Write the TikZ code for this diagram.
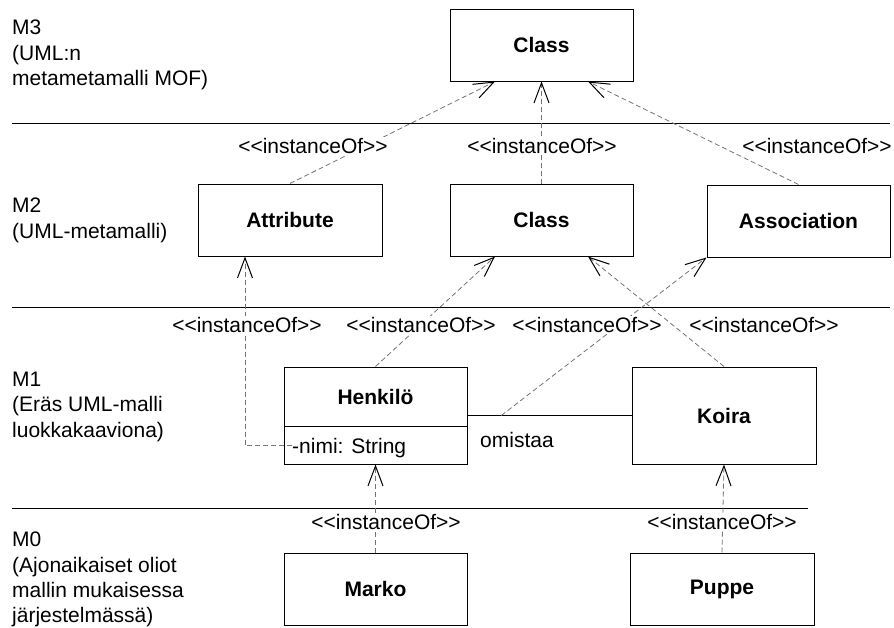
\documentclass[tikz,border=0pt]{standalone}
\usepackage{fontspec}
\setmainfont{Liberation Sans}
\usetikzlibrary{arrows.meta}
% stereotype text, with the << and >> pairs kept apart from the guillemet ligature
\newcommand{\instof}{<{}<instanceOf>{}>}
\begin{document}
\begin{tikzpicture}[x=1pt,y=-1pt,
  every node/.style={font=\fontsize{21}{26}\selectfont},
  classbox/.style={draw, line width=1pt, minimum width=183pt, minimum height=72pt,
    inner sep=0pt, font=\fontsize{21}{26}\selectfont\bfseries},
  boldname/.style={inner sep=0pt, font=\fontsize{21}{26}\selectfont\bfseries},
  layer/.style={anchor=north west, align=left, inner sep=0pt,
    font=\fontsize{21}{25.3}\selectfont},
  sep/.style={line width=1pt},
  inst/.style={draw=black!55, line width=0.8pt, dash pattern=on 5pt off 3pt,
    -{Straight Barb[length=20pt,width=15pt,line width=1pt,color=black]}},
  stereo/.style={fill=white, inner sep=1pt},
  assocline/.style={line width=1pt}]
\useasboundingbox (0,0) rectangle (894,627);

% layer separators
\draw[sep] (12,123) -- (890,123);
\draw[sep] (12,307) -- (890,307);
\draw[sep] (12,508) -- (808,508);

% layer captions
\node[layer] (m3) at (12,20) {M3\\(UML:n\\metametamalli MOF)};
\node[layer] (m2) at (12,198) {M2\\(UML-metamalli)};
\node[layer] (m1) at (12,372) {M1\\(Eräs UML-malli\\luokkakaaviona)};
\node[layer] (m0) at (12,532) {M0\\(Ajonaikaiset oliot\\mallin mukaisessa\\järjestelmässä)};

% M3
\node[classbox] (c3) at (541.5,45) {Class};
% M2
\node[classbox, minimum width=184pt] (attr) at (290,220) {Attribute};
\node[classbox] (c2) at (541.5,220) {Class};
\node[classbox] (assoc) at (798.5,221) {Association};
% M1
\node[classbox, minimum height=97pt] (henk) at (375.5,415.5) {};
\node[boldname] (henkname) at ([yshift=-30pt]henk.north) {Henkilö};
\draw[line width=1pt] ([yshift=-60pt]henk.north west) -- ([yshift=-60pt]henk.north east);
\node[anchor=base west, inner sep=0pt] (nimi) at (292,453) {-nimi: String};
\node[classbox, minimum width=184pt, minimum height=97pt] (koira) at (724,415.5) {Koira};
% M0
\node[classbox] (marko) at (375.5,589) {Marko};
\node[classbox, minimum width=184pt] (puppe) at (722,589) {Puppe};

% association between Henkilö and Koira
\draw[assocline] (henk.east) -- coordinate[pos=0.206] (assocpt) (koira.west);
\node[inner sep=0pt] (omistaa) at (517,440) {omistaa};

% instanceOf dependencies
\draw[inst] (attr.north) -- ([xshift=-46.5pt]c3.south);
\draw[inst] (c2.north) -- (c3.south);
\draw[inst] (assoc.north) -- ([xshift=46.5pt]c3.south);
\draw[inst] (henk.north) -- ([xshift=-46.5pt]c2.south);
\draw[inst] (koira.north) -- ([xshift=46.5pt]c2.south);
\draw[inst] (assocpt) -- (assoc.south west);
\draw[inst] ([yshift=2pt]nimi.west) -| ([xshift=-45pt]attr.south);
\draw[inst] (marko.north) -- (henk.south);
\draw[inst] (puppe.north) -- (koira.south);

% stereotype labels
\node[stereo] (s1) at (313,146) {\instof};
\node[stereo] (s2) at (542,146) {\instof};
\node[stereo] (s3) at (817,146) {\instof};
\node[stereo] (s4) at (247,325) {\instof};
\node[stereo] (s5) at (421,325) {\instof};
\node[stereo] (s6) at (587,325) {\instof};
\node[stereo] (s7) at (764,325) {\instof};
\node[stereo] (s8) at (386,522) {\instof};
\node[stereo] (s9) at (722,522) {\instof};
\end{tikzpicture}
\end{document}
